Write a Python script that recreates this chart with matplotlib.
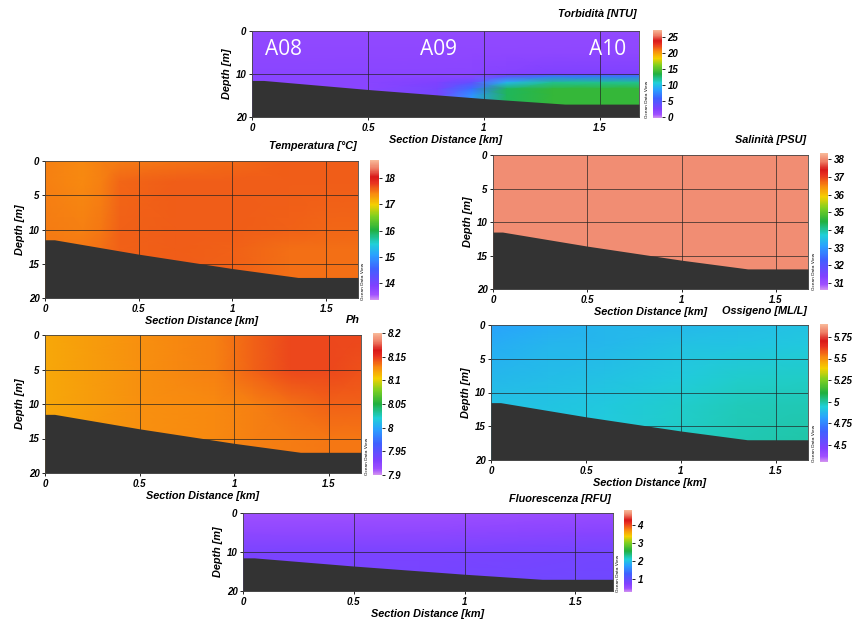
import numpy as np
import matplotlib
matplotlib.use('Agg')
import matplotlib.pyplot as plt
from matplotlib.colors import LinearSegmentedColormap
from matplotlib.ticker import FormatStrFormatter

# bathymetry along the section
bathy_dist = [0, 0.05, 0.5, 1.0, 1.35, 1.67]
bathy_depth = [11.5, 11.5, 13.6, 15.7, 17.0, 17.0]

# Torbidita [NTU]
turb_dist = [0, 0.5, 0.8, 0.95, 1.1, 1.3, 1.5, 1.67]
turb_depth = [0, 5, 10, 10.5, 12, 13.5, 15, 20]
turb_vals = [
    [1.6, 1.6, 1.6, 1.6, 1.6, 1.6, 1.6, 1.6],
    [1.8, 1.8, 1.8, 1.8, 1.8, 1.8, 1.8, 1.8],
    [2, 2, 2, 2, 2.2, 2.5, 2.5, 2.5],
    [2, 2, 2, 2, 4, 6.5, 6.5, 6.5],
    [2, 2, 2.5, 4, 9.5, 12, 12, 12],
    [2, 2, 3, 6.5, 13, 14, 14, 14],
    [2, 2, 3, 8, 13, 14, 14, 14],
    [2, 2, 3, 8, 13, 14, 14, 14],
]

# Temperatura [C]
temp_dist = [0, 0.2, 0.3, 0.4, 0.7, 1.0, 1.3, 1.5, 1.67]
temp_depth = [0, 3, 10, 13, 17, 20]
temp_vals = [
    [17.45, 17.42, 17.45, 17.48, 17.52, 17.56, 17.62, 17.62, 17.62],
    [17.45, 17.42, 17.45, 17.58, 17.62, 17.62, 17.62, 17.62, 17.62],
    [17.47, 17.45, 17.5, 17.6, 17.62, 17.62, 17.6, 17.58, 17.58],
    [17.5, 17.5, 17.53, 17.6, 17.62, 17.6, 17.55, 17.53, 17.53],
    [17.5, 17.5, 17.53, 17.6, 17.62, 17.6, 17.55, 17.53, 17.53],
    [17.5, 17.5, 17.53, 17.6, 17.62, 17.6, 17.55, 17.53, 17.53],
]

# Salinita [PSU]
sal_dist = [0, 1.67]
sal_depth = [0, 20]
sal_vals = [[38.0, 38.0], [38.0, 38.0]]

# Ph
ph_dist = [0, 0.5, 0.9, 1.1, 1.3, 1.5, 1.67]
ph_depth = [0, 5, 10, 15, 20]
ph_vals = [
    [8.117, 8.125, 8.13, 8.138, 8.145, 8.145, 8.145],
    [8.117, 8.125, 8.13, 8.138, 8.145, 8.145, 8.143],
    [8.117, 8.125, 8.128, 8.13, 8.135, 8.138, 8.138],
    [8.12, 8.125, 8.128, 8.13, 8.132, 8.133, 8.133],
    [8.12, 8.125, 8.128, 8.13, 8.132, 8.133, 8.133],
]

# Ossigeno [ML/L]
oxy_dist = [0, 0.3, 0.6, 1.0, 1.3, 1.67]
oxy_depth = [0, 3, 8, 12, 17, 20]
oxy_vals = [
    [4.82, 4.85, 4.87, 4.88, 4.89, 4.9],
    [4.85, 4.87, 4.88, 4.9, 4.91, 4.92],
    [4.88, 4.89, 4.9, 4.93, 4.95, 4.96],
    [4.9, 4.91, 4.92, 4.95, 4.97, 4.98],
    [4.9, 4.91, 4.93, 4.96, 4.98, 4.99],
    [4.9, 4.91, 4.93, 4.96, 4.98, 4.99],
]

# Fluorescenza [RFU]
fluo_dist = [0, 0.8, 1.67]
fluo_depth = [0, 5, 10, 20]
fluo_vals = [
    [0.5, 0.5, 0.55],
    [0.65, 0.65, 0.7],
    [0.8, 0.8, 0.85],
    [0.85, 0.85, 0.9],
]

stations = ['A08', 'A09', 'A10']
station_x = [0.055, 0.725, 1.455]

odv = LinearSegmentedColormap.from_list('odv', [
    (0.00, '#d090f0'), (0.04, '#a050ff'), (0.10, '#8040ff'),
    (0.22, '#4060ff'), (0.32, '#2aa0ff'), (0.40, '#20d0d8'),
    (0.50, '#20b040'), (0.60, '#80d020'), (0.68, '#f5d000'),
    (0.76, '#f88a10'), (0.84, '#e83020'), (0.88, '#d81818'),
    (0.94, '#ee7c64'), (1.00, '#f8b898')])

W, H = 857, 621
fig = plt.figure(figsize=(W / 100, H / 100), dpi=100)
bi = dict(family='Liberation Sans', weight='bold', style='italic')


def box(l, r, t, b):
    return [l / W, 1 - b / H, (r - l) / W, (b - t) / H]


def section(ax_px, cb_px, dist, depth, vals, vmin, vmax, cticks, title, yticks, title_gap=10):
    ax = fig.add_axes(box(*ax_px))
    m = ax.pcolormesh(dist, depth, np.array(vals), cmap=odv, vmin=vmin, vmax=vmax,
                      shading='gouraud', zorder=1)
    for x in [0.5, 1.0, 1.5]:
        ax.axvline(x, color='#222222', lw=0.6, alpha=0.8, zorder=2)
    for y in yticks[1:-1]:
        ax.axhline(y, color='#222222', lw=0.6, alpha=0.8, zorder=2)
    ax.fill_between(bathy_dist, bathy_depth, 20, color='#333333', lw=0, zorder=3)
    ax.set_xlim(0, 1.67)
    ax.set_ylim(20, 0)
    ax.set_xticks([0, 0.5, 1, 1.5])
    ax.set_xticklabels(['0', '0.5', '1', '1.5'])
    ax.set_yticks(yticks)
    for lab in ax.get_xticklabels() + ax.get_yticklabels():
        lab.set(**bi, fontsize=7)
    ax.tick_params(length=2, width=0.6, pad=2)
    ax.set_xlabel('Section Distance [km]', fontsize=7.8, labelpad=2, **bi)
    ax.set_ylabel('Depth [m]', fontsize=7.8, labelpad=3, **bi)
    for s in ax.spines.values():
        s.set_linewidth(0.6)
        s.set_color('#444444')
    ax.text(0.995, 1.0 + title_gap / (ax_px[3] - ax_px[2]), title, transform=ax.transAxes,
            ha='right', va='bottom', fontsize=7.8, **bi)

    cax = fig.add_axes(box(*cb_px))
    cb = fig.colorbar(m, cax=cax)
    cb.outline.set_visible(False)
    cb.set_ticks(cticks)
    cb.ax.yaxis.set_major_formatter(FormatStrFormatter('%g'))
    cb.ax.tick_params(length=2, width=0.6, pad=2)
    for lab in cb.ax.get_yticklabels():
        lab.set(**bi, fontsize=7)
    cax.text(-0.5, 0.0, 'Ocean Data View', rotation=90, fontsize=3.2,
             transform=cax.transAxes, ha='right', va='bottom')
    return ax


ax1 = section((252, 639, 31, 117), (653, 662, 30, 118), turb_dist, turb_depth, turb_vals,
              -0.3, 27.2, [0, 5, 10, 15, 20, 25], 'Torbidità [NTU]', [0, 10, 20], title_gap=12)
for name, x in zip(stations, station_x):
    ax1.text(x, 4.2, name, color='white', fontsize=15, family='Open Sans',
             ha='left', va='center', zorder=5)

section((45, 358, 161, 298), (370, 379, 160, 300), temp_dist, temp_depth, temp_vals,
        13.35, 18.7, [14, 15, 16, 17, 18], 'Temperatura [°C]', [0, 5, 10, 15, 20])
section((493, 808, 155, 289), (820, 828, 153, 290), sal_dist, sal_depth, sal_vals,
        30.6, 38.35, [31, 32, 33, 34, 35, 36, 37, 38], 'Salinità [PSU]', [0, 5, 10, 15, 20])
section((45, 361, 335, 473), (373, 382, 333, 475), ph_dist, ph_depth, ph_vals,
        7.9, 8.2, [7.9, 7.95, 8, 8.05, 8.1, 8.15, 8.2], 'Ph', [0, 5, 10, 15, 20])
section((491, 808, 325, 460), (820, 828, 324, 462), oxy_dist, oxy_depth, oxy_vals,
        4.3, 5.9, [4.5, 4.75, 5, 5.25, 5.5, 5.75], 'Ossigeno [ML/L]', [0, 5, 10, 15, 20],
        title_gap=9)
section((243, 613, 513, 591), (624, 632, 510, 592), fluo_dist, fluo_depth, fluo_vals,
        0.3, 4.8, [1, 2, 3, 4], 'Fluorescenza [RFU]', [0, 10, 20], title_gap=9)

fig.savefig('out.png', dpi=100)
